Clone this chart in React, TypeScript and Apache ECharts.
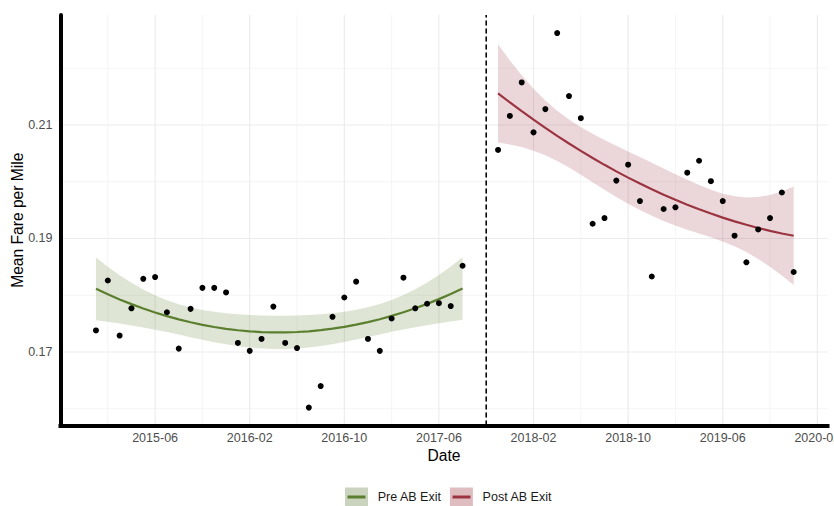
import React, { useEffect, useRef } from "react";
import * as echarts from "echarts";

// Monthly mean fare per mile, before and after the AB exit
const preMonths = [
  "2015-01", "2015-02", "2015-03", "2015-04", "2015-05", "2015-06", "2015-07", "2015-08",
  "2015-09", "2015-10", "2015-11", "2015-12", "2016-01", "2016-02", "2016-03", "2016-04",
  "2016-05", "2016-06", "2016-07", "2016-08", "2016-09", "2016-10", "2016-11", "2016-12",
  "2017-01", "2017-02", "2017-03", "2017-04", "2017-05", "2017-06", "2017-07", "2017-08",
];
const preFare = [
  0.1738, 0.1826, 0.1729, 0.1777, 0.1829, 0.1832, 0.177, 0.1706,
  0.1776, 0.1813, 0.1813, 0.1805, 0.1716, 0.1702, 0.1723, 0.178,
  0.1716, 0.1707, 0.1602, 0.164, 0.1762, 0.1796, 0.1824, 0.1723,
  0.1702, 0.1759, 0.1831, 0.1777, 0.1785, 0.1786, 0.1781, 0.1852,
];

const postMonths = [
  "2017-11", "2017-12", "2018-01", "2018-02", "2018-03", "2018-04", "2018-05", "2018-06",
  "2018-07", "2018-08", "2018-09", "2018-10", "2018-11", "2018-12", "2019-01", "2019-02",
  "2019-03", "2019-04", "2019-05", "2019-06", "2019-07", "2019-08", "2019-09", "2019-10",
  "2019-11", "2019-12",
];
const postFare = [
  0.2056, 0.2116, 0.2175, 0.2087, 0.2128, 0.2262, 0.2151, 0.2112,
  0.1926, 0.1936, 0.2002, 0.203, 0.1966, 0.1833, 0.1952, 0.1955,
  0.2016, 0.2037, 0.2001, 0.1966, 0.1905, 0.1858, 0.1916, 0.1936,
  0.1981, 0.1841,
];

const abExitMonth = "2017-10";

// Axis ticks and grid breaks
const xTickLabels = ["2015-06", "2016-02", "2016-10", "2017-06", "2018-02", "2018-10", "2019-06", "2020-02"];
const xMinorBreaks = ["2015-02", "2015-10", "2016-06", "2017-02", "2017-10", "2018-06", "2019-02", "2019-10"];
const yTickLabels = [0.17, 0.19, 0.21];
const yMinorBreaks = [0.16, 0.18, 0.2, 0.22];

// Axis extents
const xStartMonth = "2014-10";
const X_MAX = 64.86;
const Y_MIN = 0.15705;
const Y_MAX = 0.22938;

// Two-sided 95% t quantiles for a quadratic fit (df = n - 3)
const T_PRE = 2.045; // df 29
const T_POST = 2.069; // df 23

const PRE_LINE = "#5b7f2e";
const PRE_BAND = "rgba(91,127,46,0.2)";
const PRE_KEY = "#c9d3bd";
const POST_LINE = "#9b3440";
const POST_BAND = "rgba(155,52,64,0.2)";
const POST_KEY = "#dfbcc0";
const FONT = "'Liberation Sans', Arial, Helvetica, sans-serif";

const [startY, startM] = xStartMonth.split("-").map(Number);
const monthIndex = (ym: string) => {
  const [y, m] = ym.split("-").map(Number);
  return (y - startY) * 12 + (m - startM);
};
const monthLabel = (idx: number) => {
  const total = startY * 12 + (startM - 1) + idx;
  const y = Math.floor(total / 12);
  const m = (total % 12) + 1;
  return `${y}-${String(m).padStart(2, "0")}`;
};

// Least-squares fit y ~ poly(x, 2) with a pointwise confidence band
function quadraticSmooth(xs: number[], ys: number[], tq: number) {
  const n = xs.length;
  const mx = xs.reduce((a, b) => a + b, 0) / n;
  const rows = xs.map((x) => [1, x - mx, (x - mx) * (x - mx)]);
  const A = [
    [0, 0, 0],
    [0, 0, 0],
    [0, 0, 0],
  ];
  const b = [0, 0, 0];
  rows.forEach((r, k) => {
    for (let i = 0; i < 3; i++) {
      b[i] += r[i] * ys[k];
      for (let j = 0; j < 3; j++) A[i][j] += r[i] * r[j];
    }
  });
  const det =
    A[0][0] * (A[1][1] * A[2][2] - A[1][2] * A[2][1]) -
    A[0][1] * (A[1][0] * A[2][2] - A[1][2] * A[2][0]) +
    A[0][2] * (A[1][0] * A[2][1] - A[1][1] * A[2][0]);
  const inv = [
    [
      (A[1][1] * A[2][2] - A[1][2] * A[2][1]) / det,
      (A[0][2] * A[2][1] - A[0][1] * A[2][2]) / det,
      (A[0][1] * A[1][2] - A[0][2] * A[1][1]) / det,
    ],
    [
      (A[1][2] * A[2][0] - A[1][0] * A[2][2]) / det,
      (A[0][0] * A[2][2] - A[0][2] * A[2][0]) / det,
      (A[0][2] * A[1][0] - A[0][0] * A[1][2]) / det,
    ],
    [
      (A[1][0] * A[2][1] - A[1][1] * A[2][0]) / det,
      (A[0][1] * A[2][0] - A[0][0] * A[2][1]) / det,
      (A[0][0] * A[1][1] - A[0][1] * A[1][0]) / det,
    ],
  ];
  const beta = inv.map((row) => row[0] * b[0] + row[1] * b[1] + row[2] * b[2]);
  const fit = rows.map((r) => r[0] * beta[0] + r[1] * beta[1] + r[2] * beta[2]);
  const rss = ys.reduce((s, y, k) => s + (y - fit[k]) ** 2, 0);
  const s2 = rss / (n - 3);
  const se = rows.map((r) => {
    let q = 0;
    for (let i = 0; i < 3; i++) for (let j = 0; j < 3; j++) q += r[i] * inv[i][j] * r[j];
    return Math.sqrt(s2 * q);
  });
  return {
    fit,
    lower: fit.map((f, k) => f - tq * se[k]),
    upper: fit.map((f, k) => f + tq * se[k]),
  };
}

function buildOption() {
  const preX = preMonths.map(monthIndex);
  const postX = postMonths.map(monthIndex);
  const preSmooth = quadraticSmooth(preX, preFare, T_PRE);
  const postSmooth = quadraticSmooth(postX, postFare, T_POST);

  const gridSeries: any[] = [];
  const gridStyle = (major: boolean) => ({
    color: major ? "#ebebeb" : "#f2f2f2",
    width: major ? 1.1 : 0.8,
  });
  const hLine = (v: number, major: boolean) => ({
    type: "line",
    silent: true,
    z: 1,
    symbol: "none",
    data: [
      [0, v],
      [X_MAX, v],
    ],
    lineStyle: gridStyle(major),
  });
  const vLine = (m: number, major: boolean) => ({
    type: "line",
    silent: true,
    z: 1,
    symbol: "none",
    data: [
      [m, Y_MIN],
      [m, Y_MAX],
    ],
    lineStyle: gridStyle(major),
  });
  yMinorBreaks.forEach((v) => gridSeries.push(hLine(v, false)));
  yTickLabels.forEach((v) => gridSeries.push(hLine(v, true)));
  xMinorBreaks.forEach((m) => gridSeries.push(vLine(monthIndex(m), false)));
  xTickLabels.forEach((m) => gridSeries.push(vLine(monthIndex(m), true)));

  // Confidence ribbon as one polygon: upper edge forward, lower edge back
  const band = (xs: number[], lower: number[], upper: number[], color: string) => ({
    type: "custom",
    silent: true,
    z: 2,
    data: xs.map((x, k) => [x, lower[k], upper[k]]),
    encode: { x: 0, y: [1, 2] },
    renderItem: (params: any, api: any) => {
      if (params.dataIndex !== 0) return null;
      const top = xs.map((x, k) => api.coord([x, upper[k]]));
      const bottom = xs.map((x, k) => api.coord([x, lower[k]])).reverse();
      return {
        type: "polygon",
        shape: { points: [...top, ...bottom] },
        style: { fill: color },
      };
    },
  });

  const lineKey = (name: string, left: number, color: string) => ({
    orient: "horizontal",
    padding: 0,
    selectedMode: false,
    left,
    top: 495.5,
    itemWidth: 18,
    itemHeight: 3,
    icon: "rect",
    formatter: () => "",
    data: [{ name, itemStyle: { color } }],
  });

  return {
    animation: false,
    backgroundColor: "#ffffff",
    textStyle: { fontFamily: FONT },
    grid: {
      left: 60.5,
      right: 6.5,
      top: 15,
      bottom: 80.5,
      containLabel: false,
      outerBoundsMode: "none",
    },
    legend: [
      {
        orient: "horizontal",
        padding: 0,
        itemGap: 8.3,
        selectedMode: false,
        left: 345,
        top: 487.5,
        itemWidth: 23,
        itemHeight: 19,
        icon: "rect",
        textStyle: { fontFamily: FONT, fontSize: 12.5, color: "#1a1a1a", padding: [0, 0, 0, 4.7] },
        data: [
          { name: "Pre AB Exit", itemStyle: { color: PRE_KEY } },
          { name: "Post AB Exit", itemStyle: { color: POST_KEY } },
        ],
      },
      lineKey("Pre AB Exit", 347.5, PRE_LINE),
      lineKey("Post AB Exit", 452.5, POST_LINE),
    ],
    xAxis: {
      type: "value",
      min: 0,
      max: X_MAX,
      interval: 8,
      z: 10,
      name: "Date",
      nameLocation: "middle",
      nameGap: 22,
      nameMoveOverlap: false,
      nameTextStyle: { fontFamily: FONT, fontSize: 15.6, color: "#000000" },
      axisLine: { show: true, lineStyle: { color: "#000000", width: 4, cap: "square" } },
      axisTick: { show: false },
      splitLine: { show: false },
      axisLabel: {
        margin: 6,
        fontFamily: FONT,
        fontSize: 12.5,
        color: "#4d4d4d",
        showMinLabel: true,
        showMaxLabel: true,
        formatter: (v: number) => {
          if (Math.abs(v - Math.round(v)) > 1e-6) return "";
          const lab = monthLabel(Math.round(v));
          return xTickLabels.includes(lab) ? lab : "";
        },
      },
    },
    yAxis: {
      type: "value",
      min: Y_MIN,
      max: Y_MAX,
      splitNumber: 7,
      z: 10,
      name: "Mean Fare per Mile",
      nameLocation: "middle",
      nameGap: 35,
      nameMoveOverlap: false,
      nameTextStyle: { fontFamily: FONT, fontSize: 15.6, color: "#000000" },
      axisLine: { show: true, lineStyle: { color: "#000000", width: 4 } },
      axisTick: { show: false },
      splitLine: { show: false },
      axisLabel: {
        margin: 8,
        fontFamily: FONT,
        fontSize: 12.5,
        color: "#4d4d4d",
        formatter: (v: number) => {
          const hit = yTickLabels.find((t) => Math.abs(t - v) < 1e-6);
          return hit !== undefined ? hit.toFixed(2) : "";
        },
      },
    },
    series: [
      ...gridSeries,
      band(preX, preSmooth.lower, preSmooth.upper, PRE_BAND),
      band(postX, postSmooth.lower, postSmooth.upper, POST_BAND),
      {
        name: "Pre AB Exit",
        type: "line",
        z: 3,
        symbol: "none",
        silent: true,
        data: preX.map((x, k) => [x, preSmooth.fit[k]]),
        lineStyle: { color: PRE_LINE, width: 2.2 },
        itemStyle: { color: PRE_LINE },
      },
      {
        name: "Post AB Exit",
        type: "line",
        z: 3,
        symbol: "none",
        silent: true,
        data: postX.map((x, k) => [x, postSmooth.fit[k]]),
        lineStyle: { color: POST_LINE, width: 2.2 },
        itemStyle: { color: POST_LINE },
      },
      {
        name: "AB exit",
        type: "line",
        z: 3,
        symbol: "none",
        silent: true,
        data: [
          [monthIndex(abExitMonth), Y_MIN],
          [monthIndex(abExitMonth), Y_MAX],
        ],
        lineStyle: { color: "#000000", width: 1.6, type: [5, 3] },
      },
      {
        name: "Pre fares",
        type: "scatter",
        z: 4,
        symbolSize: 6,
        silent: true,
        data: preX.map((x, k) => [x, preFare[k]]),
        itemStyle: { color: "#000000", opacity: 1 },
      },
      {
        name: "Post fares",
        type: "scatter",
        z: 4,
        symbolSize: 6,
        silent: true,
        data: postX.map((x, k) => [x, postFare[k]]),
        itemStyle: { color: "#000000", opacity: 1 },
      },
    ],
  };
}

export default function App() {
  const ref = useRef<HTMLDivElement>(null);
  useEffect(() => {
    if (!ref.current) return;
    const chart = echarts.init(ref.current, null, { renderer: "svg" });
    chart.setOption(buildOption() as any);
    return () => chart.dispose();
  }, []);
  return (
    <div
      ref={ref}
      style={{ position: "fixed", left: 0, top: 0, width: 834, height: 506, background: "#ffffff" }}
    />
  );
}
